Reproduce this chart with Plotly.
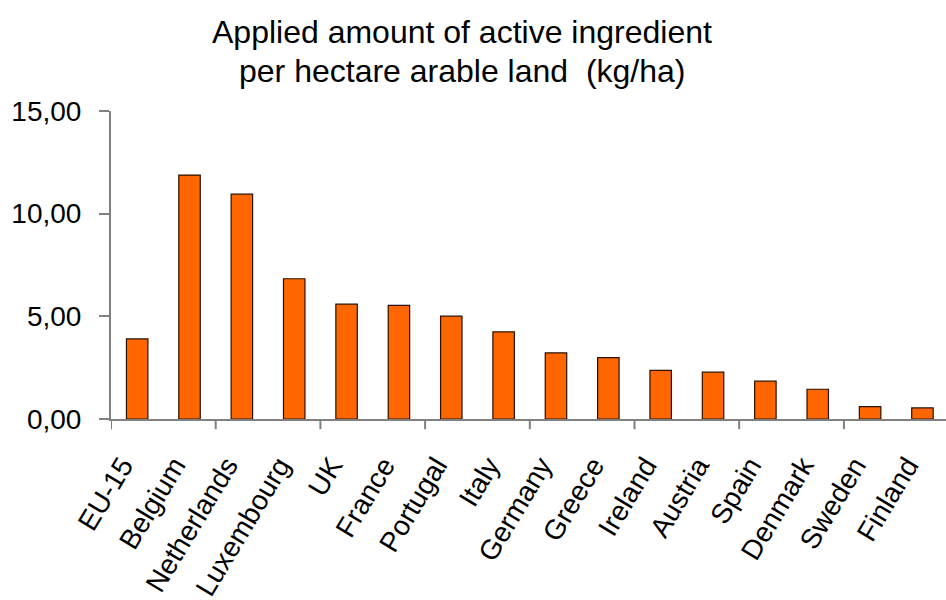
import plotly.graph_objects as go

# Applied active ingredient per hectare of arable land, by country
countries = ["EU-15", "Belgium", "Netherlands", "Luxembourg", "UK", "France",
             "Portugal", "Italy", "Germany", "Greece", "Ireland", "Austria",
             "Spain", "Denmark", "Sweden", "Finland"]
kg_per_ha = [3.90, 11.88, 10.95, 6.83, 5.59, 5.53, 5.01, 4.24, 3.22, 2.99,
             2.37, 2.28, 1.84, 1.45, 0.60, 0.54]
y_ticks = [0, 5, 10, 15]
title_lines = ["Applied amount of active ingredient",
               "per hectare arable land  (kg/ha)"]

font_family = "Liberation Sans, Arial, sans-serif"
plot_top, plot_bottom = 111, 419
plot_h = plot_bottom - plot_top

fig = go.Figure(go.Bar(
    x=countries,
    y=kg_per_ha,
    width=0.41,
    marker=dict(color="#FF6600", line=dict(color="#2a1000", width=1.2)),
))

fig.update_layout(
    width=946, height=600,
    margin=dict(l=111, r=0, t=plot_top, b=600 - plot_bottom),
    paper_bgcolor="white", plot_bgcolor="white",
    separators=",.",
    showlegend=False,
    font=dict(family=font_family, color="black", size=28),
    xaxis=dict(
        range=[-0.5, 15.45],
        showline=True, linecolor="#808080", linewidth=2,
        ticks="", tickangle=-59,
        tickfont=dict(size=28),
        ticklabelstandoff=17, ticklabelshift=-15,
        showgrid=False, zeroline=False,
    ),
    yaxis=dict(
        range=[0, 15],
        tickvals=y_ticks, tickformat=".2f",
        showline=True, linecolor="#808080", linewidth=2,
        ticks="outside", ticklen=10, tickwidth=2, tickcolor="#808080",
        tickfont=dict(size=28), ticklabelstandoff=12,
        showgrid=False, zeroline=False,
    ),
)

# two-line chart title
for text, y_px in zip(title_lines, [32, 71]):
    fig.add_annotation(
        text=text, xref="paper", yref="paper",
        x=(462 - 111) / (946 - 111), y=(plot_bottom - y_px) / plot_h,
        xanchor="center", yanchor="middle", showarrow=False,
        font=dict(size=32, family=font_family, color="black"),
    )

# category-boundary tick marks on the x axis, every second category
for b in range(0, 17, 2):
    fig.add_shape(type="line", xref="x", yref="paper",
                  x0=b - 0.5, x1=b - 0.5, y0=0, y1=-0.033,
                  line=dict(color="#808080", width=2))

fig.write_html("out.html")
